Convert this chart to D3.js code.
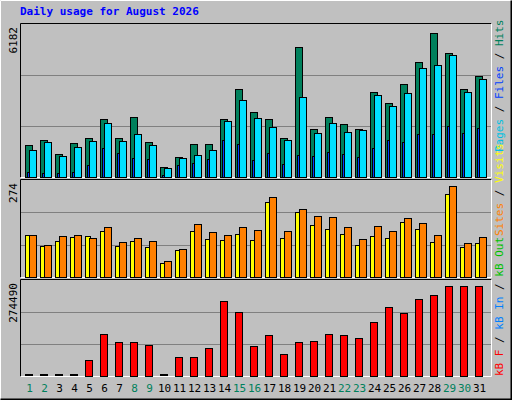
<!DOCTYPE html>
<html>
<head>
<meta charset="utf-8">
<script src="https://cdn.jsdelivr.net/npm/d3@7"></script>
<style>
body{margin:0;background:#fff;}
text{font-family:"DejaVu Sans Mono",monospace;}
</style>
</head>
<body>
<script>
// daily values
var days = d3.range(1, 32);
var weekends = [1, 2, 8, 9, 15, 16, 22, 23, 29, 30];
var hits = [1357,1609,979,1441,1693,2490,1693,2574,1483,434,853,1399,1399,2490,3791,2784,2490,1693,5596,2070,2574,2280,2070,3665,3162,4001,4924,6182,5344,3791,4337];
var files = [1147,1483,895,1273,1567,2322,1525,1861,1357,392,811,937,1147,2406,3288,2532,2154,1609,3414,1903,2322,1945,2028,3539,3036,3623,4673,4799,5218,3665,4211];
var pages = [224,182,182,224,518,1231,1021,811,769,98,518,602,769,1609,1399,727,1021,560,937,895,1063,979,853,1231,1609,1483,1861,1861,2196,1903,2113];
var visits = [126,93,108,120,123,137,93,108,90,43,81,137,114,111,129,111,226,117,194,155,143,129,96,123,117,164,143,105,250,90,102];
var sites = [126,96,123,126,117,149,105,117,108,48,84,158,135,126,149,140,241,137,203,182,179,149,114,152,137,176,161,126,274,102,120];
var kbytes = [0,0,0,0,49088,127229,103185,103185,94169,0,58104,58104,85153,226407,193347,91164,124223,67121,103185,106191,127229,124223,115207,163293,208374,190342,235423,247445,274490,274490,274490];

var width = 512, height = 400;

var svg = d3.select("body").append("svg")
    .attr("width", width)
    .attr("height", height);

// outer frame
svg.append("rect").attr("width", width).attr("height", height).attr("fill", "#c0c0c0");
svg.append("path").attr("d", "M0.5,399.5V0.5H511.5").attr("stroke", "#fff").attr("fill", "none");
svg.append("path").attr("d", "M0.5,399.5H511.5V0.5").attr("stroke", "#000").attr("fill", "none").attr("stroke-width", 2);

svg.append("text")
    .attr("x", 20).attr("y", 15)
    .attr("fill", "#0000ff")
    .style("font-size", "11px").style("font-weight", "bold")
    .text("Daily usage for August 2026");

var x = d3.scaleBand().domain(days).range([21, 486]).paddingInner(0);

function panel(top, bottom, maxVal, maxLabel, legend, legendY){
    var g = svg.append("g");
    g.append("rect").attr("x", 21).attr("y", top).attr("width", 470).attr("height", bottom - top)
        .attr("fill", "#c0c0c0");
    var h = bottom - top;
    [1, 2].forEach(function(k){
        g.append("line").attr("x1", 21).attr("x2", 491)
            .attr("y1", Math.round(bottom - h * k / 3) + 0.5).attr("y2", Math.round(bottom - h * k / 3) + 0.5)
            .attr("stroke", "#808080");
    });
    g.append("path").attr("d", "M20.5," + (bottom + 0.5) + "V" + (top - 0.5) + "H491.5")
        .attr("stroke", "#000").attr("fill", "none");
    g.append("path").attr("d", "M20.5," + (bottom + 0.5) + "H491.5V" + (top - 0.5))
        .attr("stroke", "#fff").attr("fill", "none");
    var y = d3.scaleLinear().domain([0, maxVal]).range([bottom, top + (h * 0.03)]);
    g.append("text")
        .attr("transform", "translate(17," + (top + 3) + ") rotate(-90)")
        .attr("text-anchor", "end")
        .style("font-size", "11px").attr("fill", "#000")
        .text(maxLabel);
    var lt = g.append("text")
        .attr("transform", "translate(503," + legendY + ") rotate(-90)")
        .style("font-size", "11px");
    legend.forEach(function(l, i){
        if (i > 0) lt.append("tspan").attr("fill", "#000").text(" / ");
        lt.append("tspan").attr("fill", l[1]).text(l[0]);
    });
    return {g: g, y: y};
}

function bars(p, data, offset, w, color){
    var rows = data.map(function(v, i){ return {day: days[i], v: v}; })
        .filter(function(d){ return d.v > 0; });
    p.g.selectAll(null).data(rows).enter().append("rect")
        .attr("x", function(d){ return x(d.day) + offset + 0.5; })
        .attr("y", function(d){ return Math.round(p.y(d.v)) + 0.5; })
        .attr("width", w)
        .attr("height", function(d){ return Math.max(0, Math.round(p.y(0)) - Math.round(p.y(d.v))); })
        .attr("fill", color).attr("stroke", "#000");
}

// hits / files / pages
var p1 = panel(24, 177, 6182 / 0.97, "6182", [["Pages", "#00c0e0"], ["Files", "#0040ff"], ["Hits", "#00805c"]], 152);
bars(p1, hits, 4, 7, "#00805c");
bars(p1, files, 8, 7, "#00e0ff");
bars(p1, pages, 6, 2, "#0040ff");

// visits / sites
var p2 = panel(180, 277, 274 / 0.97, "274", [["Sites", "#ff8000"], ["Visits", "#ffff00"]], 236);
bars(p2, visits, 4, 5, "#ffff00");
bars(p2, sites, 8, 7, "#ff8000");

// kbytes
var p3 = panel(280, 376, 274490 / 0.97, "274490", [["kB F", "#ff0000"], ["kB In", "#0080ff"], ["kB Out", "#00c000"]], 376);
bars(p3, kbytes, 4, 7, "#ff0000");
var zeros = kbytes.map(function(v, i){ return {day: days[i], v: v}; })
    .filter(function(d){ return d.v === 0; });
p3.g.selectAll(null).data(zeros).enter().append("rect")
    .attr("x", function(d){ return x(d.day) + 4; })
    .attr("y", 374).attr("width", 8).attr("height", 2).attr("fill", "#000");

svg.selectAll(".day").data(days).enter().append("text")
    .attr("x", function(d){ return x(d) + 8.5; })
    .attr("y", 392)
    .attr("text-anchor", "middle")
    .style("font-size", "11px")
    .attr("fill", function(d){ return weekends.indexOf(d) >= 0 ? "#00805c" : "#000"; })
    .text(function(d){ return d; });
</script>
</body>
</html>
